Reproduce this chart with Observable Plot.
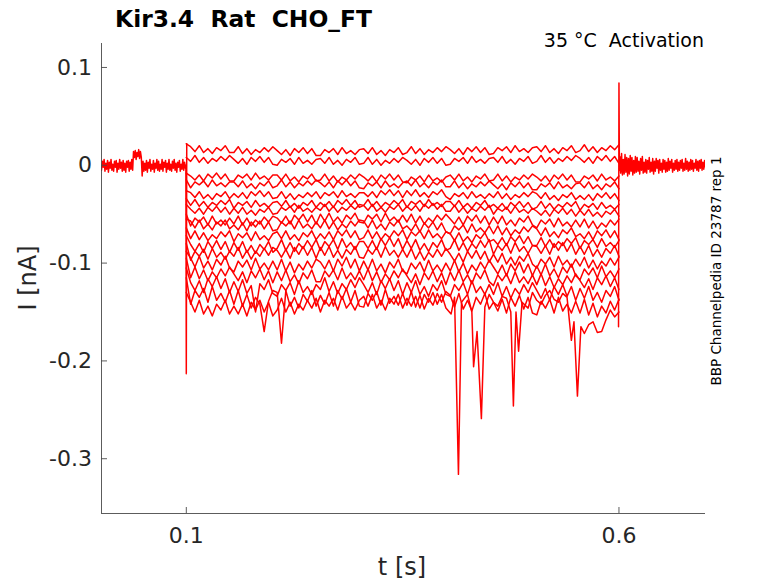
<!DOCTYPE html>
<html><head><meta charset="utf-8">
<script src="https://cdn.jsdelivr.net/npm/d3@7"></script>
<script src="https://cdn.jsdelivr.net/npm/@observablehq/plot@0.6"></script>
<style>
body{margin:0;background:#fff;}
#fig{position:relative;width:778px;height:583px;font-family:"DejaVu Sans",sans-serif;}
#fig svg{position:absolute;left:0;top:0;}
#fig svg.overlay{pointer-events:none;}
#fig svg.overlay text{white-space:pre;}
</style></head><body>
<div id="fig">
<svg class="overlay" width="778" height="583" style="font-family:'DejaVu Sans',sans-serif">
<text x="115" y="27" font-weight="bold" font-size="23.4" fill="#000" xml:space="preserve">Kir3.4  Rat  CHO_FT</text>
<text x="704" y="47" text-anchor="end" font-size="19" fill="#000" xml:space="preserve">35 °C  Activation</text>
<text transform="translate(721,271) rotate(-90)" text-anchor="middle" font-size="13.5" fill="#000">BBP Channelpedia ID 23787 rep 1</text>
<text transform="translate(36,278) rotate(-90)" text-anchor="middle" font-size="24" fill="#262626">I [nA]</text>
<text x="402" y="575" text-anchor="middle" font-size="24" fill="#262626">t [s]</text>
</svg>
</div>
<script>
// axes
const xDomain = [0.002, 0.7];
const yDomain = [-0.356, 0.1245];
const xTicks = [0.1, 0.6];
const yTicks = [0.1, 0, -0.1, -0.2, -0.3];

// holding period before the step (values in pA)
const tPre = [0.002,0.003,0.004,0.005,0.006,0.007,0.008,0.009,0.010,0.011,
  0.012,0.013,0.014,0.015,0.016,0.017,0.018,0.019,0.020,0.021,
  0.022,0.023,0.024,0.025,0.026,0.027,0.028,0.029,0.030,0.031,
  0.032,0.033,0.034,0.035,0.036,0.037,0.038,0.039,0.040,0.041,
  0.042,0.043,0.044,0.045,0.046,0.047,0.048,0.049,0.050,0.051,
  0.052,0.053,0.054,0.055,0.056,0.057,0.058,0.059,0.060,0.061,
  0.062,0.063,0.064,0.065,0.066,0.067,0.068,0.069,0.070,0.071,
  0.072,0.073,0.074,0.075,0.076,0.077,0.078,0.079,0.080,0.081,
  0.082,0.083,0.084,0.085,0.086,0.087,0.088,0.089,0.090,0.091,
  0.092,0.093,0.094,0.095,0.096,0.097,0.098,0.099,0.0995,0.100,0.1005];
const iPre_pA = [-5,4,-2,6,-6,2,-4,5,-7,3,
  -3,6,-5,1,-6,4,-2,5,-7,2,
  -4,6,-3,3,-6,5,-5,2,-7,4,
  -2,5,-6,3,-4,6,-5,14,8,15,
  6,13,9,16,7,14,8,-11,4,-6,
  2,-5,5,-7,3,-3,6,-6,1,-4,
  5,-7,2,-3,6,-5,4,-6,1,-4,
  6,-6,3,-2,5,-7,2,-4,6,-5,
  1,-6,4,-3,6,-5,2,-7,3,-2,
  5,-6,1,-4,6,-5,3,-3,0,-213,22];

// tail after the step (values in pA)
const tPost = [0.5995,0.600,0.6005,
  0.601,0.602,0.603,0.604,0.605,0.606,0.607,0.608,0.609,0.610,
  0.611,0.612,0.613,0.614,0.615,0.616,0.617,0.618,0.619,0.620,
  0.621,0.622,0.623,0.624,0.625,0.626,0.627,0.628,0.629,0.630,
  0.631,0.632,0.633,0.634,0.635,0.636,0.637,0.638,0.639,0.640,
  0.641,0.642,0.643,0.644,0.645,0.646,0.647,0.648,0.649,0.650,
  0.651,0.652,0.653,0.654,0.655,0.656,0.657,0.658,0.659,0.660,
  0.661,0.662,0.663,0.664,0.665,0.666,0.667,0.668,0.669,0.670,
  0.671,0.672,0.673,0.674,0.675,0.676,0.677,0.678,0.679,0.680,
  0.681,0.682,0.683,0.684,0.685,0.686,0.687,0.688,0.689,0.690,
  0.691,0.692,0.693,0.694,0.695,0.696,0.697,0.698,0.699,0.700];
const iPost_pA = [-165,84,-5,
  9,-8,12,-10,6,-9,11,-7,8,-11,
  7,-9,10,-6,8,-10,5,-8,9,-7,
  8,-6,4,-9,7,-5,9,-8,3,-7,
  6,-8,5,-4,8,-7,3,-6,7,-9,
  4,-6,7,-3,5,-8,6,-5,2,-7,
  6,-4,5,-7,3,-6,7,-5,4,-3,
  6,-7,2,-5,5,-4,6,-6,3,-5,
  5,-3,6,-6,2,-5,7,-4,4,-6,
  3,-5,6,-4,5,-6,2,-3,6,-5,
  4,-6,5,-3,6,-5,3,-4,5,-2];

// sweeps during the test step, 5 ms sampling (values in pA)
const tPulse = [0.100,
  0.105,0.110,0.115,0.120,0.125,0.130,0.135,0.140,0.145,0.150,
  0.155,0.160,0.165,0.170,0.175,0.180,0.185,0.190,0.195,0.200,
  0.205,0.210,0.215,0.220,0.225,0.230,0.235,0.240,0.245,0.250,
  0.255,0.260,0.265,0.270,0.275,0.280,0.285,0.290,0.295,0.300,
  0.305,0.310,0.315,0.320,0.325,0.330,0.335,0.340,0.345,0.350,
  0.355,0.360,0.365,0.370,0.375,0.380,0.385,0.390,0.395,0.400,
  0.405,0.410,0.415,0.420,0.425,0.430,0.435,0.440,0.445,0.450,
  0.455,0.460,0.465,0.470,0.475,0.480,0.485,0.490,0.495,0.500,
  0.505,0.510,0.515,0.520,0.525,0.530,0.535,0.540,0.545,0.550,
  0.555,0.560,0.565,0.570,0.575,0.580,0.585,0.590,0.595,0.600];
const sweep01 = [22, 19,14,20,13,17,12,18,15,20,13, 13,19,12,17,11,16,13,18,14,19, 15,11,16,10,17,13,18,12,17,10, 10,16,13,17,11,18,12,15,11,16, 17,12,18,11,15,10,16,13,18,11, 13,19,12,17,11,16,13,18,14,19, 16,12,17,11,18,14,19,13,18,11, 12,18,15,19,13,20,14,17,13,18, 19,14,20,13,17,12,18,15,20,13, 15,21,14,19,13,18,15,20,16,21];
const sweep02 = [8, 4,10,3,8,2,7,4,9,5,10, 6,2,7,1,8,4,9,3,8,1, 0,6,3,7,1,8,2,5,1,6, 7,2,8,1,5,0,6,3,8,1, 2,8,1,6,0,5,2,7,3,8, 5,1,6,0,7,3,8,2,7,0, 1,7,4,8,2,9,3,6,2,7, 8,3,9,2,6,1,7,4,9,2, 4,10,3,8,2,7,4,9,5,10, 7,3,8,2,9,5,10,4,9,2];
const sweep03 = [-8, -11,-15,-10,-16,-9,-13,-8,-14,-9,-16, -16,-10,-13,-9,-15,-8,-14,-11,-15,-10, -10,-15,-9,-16,-12,-17,-11,-14,-9,-16, -15,-9,-16,-11,-17,-12,-15,-10,-14,-9, -12,-16,-11,-17,-10,-14,-9,-15,-10,-17, -18,-12,-15,-11,-17,-10,-16,-13,-17,-12, -10,-15,-9,-16,-12,-17,-11,-14,-9,-16, -15,-9,-16,-11,-17,-12,-15,-10,-14,-9, -12,-16,-11,-17,-10,-14,-9,-15,-10,-17, -17,-11,-14,-10,-16,-9,-15,-12,-16,-11];
const sweep04 = [-15, -23,-17,-20,-16,-22,-15,-21,-18,-22,-17, -17,-22,-16,-23,-19,-24,-18,-21,-16,-23, -21,-15,-22,-17,-23,-18,-21,-16,-20,-15, -18,-22,-17,-23,-16,-20,-15,-21,-16,-23, -24,-18,-21,-17,-23,-16,-22,-19,-23,-18, -16,-21,-15,-22,-18,-23,-17,-20,-15,-22, -22,-16,-23,-18,-24,-19,-22,-17,-21,-16, -20,-24,-19,-25,-18,-22,-17,-23,-18,-25, -25,-19,-22,-18,-24,-17,-23,-20,-24,-19, -18,-23,-17,-24,-20,-25,-19,-22,-17,-24];
const sweep05 = [-26, -28,-33,-27,-34,-30,-35,-29,-32,-27,-34, -29,-33,-28,-34,-27,-31,-26,-32,-27,-34, -33,-27,-34,-29,-35,-30,-33,-28,-32,-27, -34,-28,-31,-27,-33,-26,-32,-29,-33,-28, -28,-32,-27,-33,-26,-30,-25,-31,-26,-33, -26,-31,-25,-32,-28,-33,-27,-30,-25,-32, -35,-29,-32,-28,-34,-27,-33,-30,-34,-29, -33,-27,-34,-29,-35,-30,-33,-28,-32,-27, -29,-34,-28,-35,-31,-36,-30,-33,-28,-35, -31,-35,-30,-36,-29,-33,-28,-34,-29,-36];
const sweep06 = [-34, -41,-35,-42,-37,-43,-38,-41,-36,-40,-35, -44,-38,-41,-37,-43,-36,-42,-39,-43,-38, -37,-42,-36,-43,-39,-44,-38,-41,-36,-43, -38,-42,-37,-43,-36,-40,-35,-41,-36,-43, -41,-35,-42,-37,-43,-38,-41,-36,-40,-35, -43,-37,-40,-36,-42,-35,-41,-38,-42,-37, -37,-42,-36,-43,-39,-44,-38,-41,-36,-43, -40,-44,-39,-45,-38,-42,-37,-43,-38,-45, -43,-37,-44,-39,-45,-40,-43,-38,-42,-37, -46,-40,-43,-39,-45,-38,-44,-41,-45,-40];
const sweep07 = [-40, -45,-49,-44,-50,-43,-47,-42,-48,-43,-50, -44,-49,-43,-50,-46,-51,-45,-48,-43,-50, -49,-43,-46,-42,-48,-41,-47,-44,-48,-43, -46,-40,-47,-42,-48,-43,-46,-41,-45,-40, -41,-46,-40,-47,-43,-48,-42,-45,-40,-47, -42,-46,-41,-47,-40,-44,-39,-45,-40,-47, -47,-41,-48,-43,-49,-44,-47,-42,-46,-41, -50,-44,-47,-43,-49,-42,-48,-45,-49,-44, -47,-51,-46,-52,-45,-49,-44,-50,-45,-52, -46,-51,-45,-52,-48,-53,-47,-50,-45,-52];
const sweep08 = [-50, -62,-54,-58,-53,-61,-52,-60,-56,-61,-54, -60,-52,-61,-54,-62,-56,-60,-53,-58,-52, -54,-59,-52,-60,-51,-56,-50,-58,-51,-60, -50,-57,-49,-58,-53,-59,-51,-55,-49,-58, -59,-51,-55,-50,-58,-49,-57,-53,-58,-51, -58,-50,-59,-52,-60,-54,-58,-51,-56,-50, -55,-60,-53,-61,-52,-57,-51,-59,-52,-61, -53,-60,-52,-61,-56,-62,-54,-58,-52,-61, -64,-56,-60,-55,-63,-54,-62,-58,-63,-56, -63,-55,-64,-57,-65,-59,-63,-56,-61,-55];
const sweep09 = [-55, -57,-64,-56,-65,-60,-66,-58,-62,-56,-65, -61,-66,-59,-67,-58,-63,-57,-65,-58,-67, -66,-58,-62,-57,-65,-56,-64,-60,-65,-58, -64,-56,-65,-58,-66,-60,-64,-57,-62,-56, -57,-64,-56,-65,-60,-66,-58,-62,-56,-65, -62,-67,-60,-68,-59,-64,-58,-66,-59,-68, -70,-62,-66,-61,-69,-60,-68,-64,-69,-62, -70,-62,-71,-64,-72,-66,-70,-63,-68,-62, -65,-72,-64,-73,-68,-74,-66,-70,-64,-73, -70,-75,-68,-76,-67,-72,-66,-74,-67,-76];
const sweep10 = [-64, -75,-67,-76,-69,-77,-71,-75,-68,-73,-67, -78,-70,-74,-69,-77,-68,-76,-72,-77,-70, -68,-75,-67,-76,-71,-77,-69,-73,-67,-76, -70,-75,-68,-76,-67,-72,-66,-74,-67,-76, -74,-66,-75,-68,-76,-70,-74,-67,-72,-66, -76,-68,-72,-67,-75,-66,-74,-70,-75,-68, -70,-77,-69,-78,-73,-79,-71,-75,-69,-78, -76,-81,-74,-82,-73,-78,-72,-80,-73,-82, -82,-74,-83,-76,-84,-78,-82,-75,-80,-74, -85,-77,-81,-76,-84,-75,-83,-79,-84,-77];
const sweep11 = [-72, -81,-88,-80,-89,-78,-85,-77,-86,-78,-89, -79,-87,-78,-89,-82,-90,-81,-86,-78,-89, -85,-76,-87,-79,-88,-80,-85,-77,-84,-76, -87,-78,-83,-76,-86,-75,-84,-79,-86,-78, -78,-85,-77,-86,-75,-82,-74,-83,-75,-86, -77,-85,-76,-87,-80,-88,-79,-84,-76,-87, -85,-76,-87,-79,-88,-80,-85,-77,-84,-76, -91,-82,-87,-80,-90,-79,-88,-83,-90,-82, -83,-90,-82,-91,-80,-87,-79,-88,-80,-91, -83,-91,-82,-93,-86,-94,-85,-90,-82,-93];
const sweep12 = [-80, -97,-88,-93,-86,-96,-85,-94,-89,-96,-88, -93,-84,-95,-87,-96,-88,-93,-85,-92,-84, -87,-94,-86,-95,-84,-91,-83,-92,-84,-95, -84,-92,-83,-94,-87,-95,-86,-91,-83,-94, -95,-86,-91,-84,-94,-83,-92,-87,-94,-86, -94,-85,-96,-88,-97,-89,-94,-86,-93,-85, -91,-98,-90,-99,-88,-95,-87,-96,-88,-99, -91,-99,-90,-101,-94,-102,-93,-98,-90,-101, -105,-96,-101,-94,-104,-93,-102,-97,-104,-96, -103,-94,-105,-97,-106,-98,-103,-95,-102,-94];
const sweep13 = [-88, -95,-104,-93,-105,-98,-107,-96,-102,-93,-105, -109,-98,-104,-97,-107,-95,-106,-100,-107,-98, -107,-96,-108,-99,-110,-101,-107,-98,-105,-96, -99,-106,-97,-108,-96,-103,-94,-105,-96,-108, -98,-107,-96,-108,-101,-110,-99,-105,-96,-108, -111,-100,-106,-99,-109,-97,-108,-102,-109,-100, -108,-97,-109,-100,-111,-102,-108,-99,-106,-97, -104,-111,-102,-113,-101,-108,-99,-110,-101,-113, -103,-112,-101,-113,-106,-115,-104,-110,-101,-113, -117,-106,-112,-105,-115,-103,-114,-108,-115,-106];
const sweep14 = [-95, -115,-104,-116,-107,-118,-109,-115,-106,-113,-104, -111,-118,-109,-120,-108,-115,-106,-117,-108,-120, -109,-118,-107,-119,-112,-121,-110,-116,-107,-119, -119,-108,-114,-107,-117,-105,-116,-110,-117,-108, -117,-106,-118,-109,-120,-111,-117,-108,-115,-106, -113,-120,-111,-122,-110,-117,-108,-119,-110,-122, -109,-118,-107,-119,-112,-121,-110,-116,-107,-119, -123,-112,-118,-111,-121,-109,-120,-114,-121,-112, -122,-111,-123,-114,-125,-116,-122,-113,-120,-111, -118,-125,-116,-127,-115,-122,-113,-124,-115,-127];
const sweep15 = [-105, -120,-128,-118,-130,-116,-124,-114,-126,-116,-130, -119,-129,-117,-131,-123,-150,-121,-127,-117,-131, -134,-122,-128,-120,-132,-118,-130,-124,-132,-122, -127,-115,-129,-119,-131,-121,-127,-117,-125,-115, -122,-130,-120,-132,-118,-126,-116,-128,-118,-132, -120,-130,-118,-132,-124,-134,-122,-128,-118,-132, -134,-122,-128,-120,-132,-118,-130,-124,-132,-122, -132,-120,-134,-124,-136,-126,-132,-122,-130,-120, -128,-136,-126,-138,-124,-132,-122,-134,-124,-138, -126,-136,-124,-138,-130,-140,-128,-134,-124,-138];
const sweep16 = [-115, -142,-128,-135,-126,-140,-124,-138,-131,-140,-128, -142,-128,-144,-132,-146,-135,-142,-170,-139,-128, -130,-182,-128,-144,-135,-146,-132,-139,-128,-144, -133,-142,-130,-144,-128,-137,-126,-140,-128,-144, -145,-131,-138,-129,-143,-127,-141,-134,-143,-131, -143,-129,-145,-133,-147,-136,-143,-131,-140,-129, -133,-145,-131,-147,-138,-149,-135,-142,-131,-147, -140,-149,-137,-151,-135,-144,-133,-147,-135,-151, -153,-139,-146,-137,-151,-135,-149,-142,-151,-139, -151,-137,-153,-141,-155,-144,-151,-139,-148,-137];

// deepest sweep: 5 ms sampling to 0.4 s, then finer sampling around the sharp dips
const tSweep17Late = [0.406,0.410,0.4145,0.418,0.425,0.430,0.432,0.436,0.441,0.445,
  0.450,0.455,0.460,0.465,0.470,0.475,0.478,0.481,0.484,0.488,0.495,
  0.500,0.505,0.510,0.515,0.520,0.525,0.530,0.535,0.540,0.545,0.548,0.552,0.556,
  0.560,0.565,0.570,0.575,0.580,0.585,0.590,0.595,0.600];
const sweep17 = [-130,
  -140,-150,-138,-152,-144,-154,-142,-148,-138,-152,
  -144,-152,-142,-154,-140,-148,-138,-150,-140,-154,
  -148,-136,-150,-140,-152,-142,-148,-138,-146,-136,
  -150,-138,-144,-136,-148,-134,-146,-140,-148,-138,
  -134,-144,-132,-146,-138,-148,-136,-142,-132,-146,
  -136,-144,-134,-146,-132,-140,-130,-142,-132,-146,
  -152,-135,-316,-140,-132,-150,-206,-170,-259,-145,
  -132,-140,-144,-134,-136,-150,-246,-150,-190,-140,-146,
  -130,-138,-142,-133,-128,-137,-140,-131,-135,-179,-160,-236,-165,
  -172,-163,-160,-171,-170,-158,-148,-155,-150];
const tSweep17 = tPulse.slice(0, 61).concat(tSweep17Late);

const pulseSweeps = [sweep01,sweep02,sweep03,sweep04,sweep05,sweep06,sweep07,sweep08,
  sweep09,sweep10,sweep11,sweep12,sweep13,sweep14,sweep15,sweep16];

const rows = [];
function addSeries(name, times, valuesPA) {
  times.forEach((t, i) => rows.push({sweep: name, t, I: valuesPA[i] / 1000}));
}
addSeries("pre", tPre, iPre_pA);
pulseSweeps.forEach((v, k) => addSeries("s" + (k + 1), tPulse, v));
addSeries("s17", tSweep17, sweep17);
addSeries("post", tPost, iPost_pA);

const plot = Plot.plot({
  width: 778,
  height: 583,
  marginLeft: 101,
  marginRight: 73,
  marginTop: 43,
  marginBottom: 70,
  style: {fontFamily: '"DejaVu Sans", sans-serif', fontSize: "22px", color: "#262626", background: "transparent"},
  x: {domain: xDomain},
  y: {domain: yDomain},
  marks: [
    Plot.line(rows, {x: "t", y: "I", z: "sweep", stroke: "#ff0000", strokeWidth: 1.5, clip: true}),
    Plot.ruleX([xDomain[0]], {stroke: "#4a4a4a", strokeWidth: 0.9}),
    Plot.ruleY([yDomain[0]], {stroke: "#4a4a4a", strokeWidth: 0.9}),
    Plot.axisX(xTicks, {tickSize: -6, tickPadding: 20, stroke: "#4a4a4a", strokeWidth: 0.9, tickFormat: d => String(d), label: null}),
    Plot.axisY(yTicks, {tickSize: -6, tickPadding: 15.5, stroke: "#4a4a4a", strokeWidth: 0.9, tickFormat: d => String(d), label: null})
  ]
});
const fig = document.getElementById("fig");
fig.insertBefore(plot, fig.firstChild);
</script>
</body></html>
